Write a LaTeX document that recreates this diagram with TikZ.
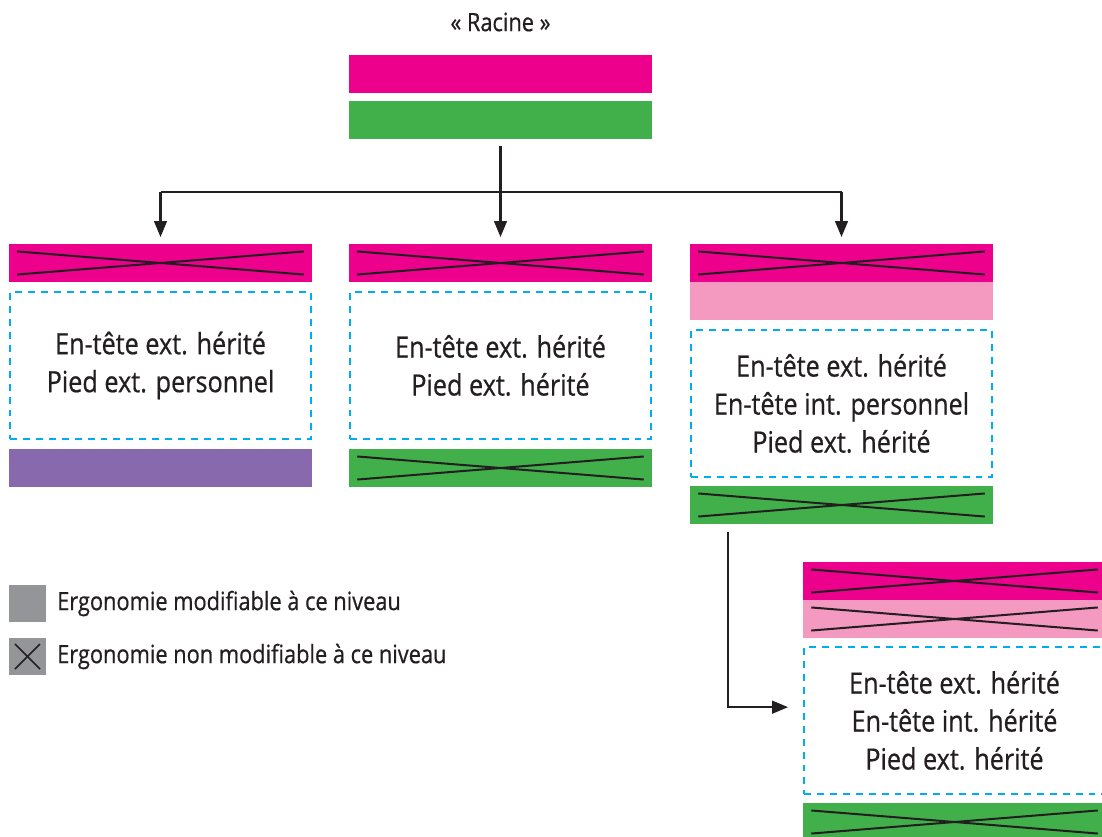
\documentclass[tikz,border=0pt]{standalone}
\usepackage{fontspec}
\setmainfont[FakeStretch=0.86, FakeBold=0.6]{Open Sans}
\usepackage{tikz}
\usetikzlibrary{arrows.meta,positioning,calc}

\definecolor{rosepink}{HTML}{EC008C}
\definecolor{palepink}{HTML}{F49AC1}
\definecolor{leafgreen}{HTML}{41AF4A}
\definecolor{mauve}{HTML}{8869AD}
\definecolor{zonecyan}{HTML}{00AEEF}
\definecolor{inkblack}{HTML}{231F20}
\definecolor{keygrey}{HTML}{939598}

\begin{document}
\begin{tikzpicture}[x=0.75pt, y=-0.75pt,
    bar/.style={rectangle, minimum width=227.25pt, minimum height=28.5pt, inner sep=0pt},
    crossed/.style={path picture={
        \draw[inkblack, line width=1.5pt] ([xshift=6.2pt,yshift=-5.6pt]path picture bounding box.north west) -- ([xshift=-6.2pt,yshift=5.6pt]path picture bounding box.south east);
        \draw[inkblack, line width=1.5pt] ([xshift=6.2pt,yshift=5.6pt]path picture bounding box.south west) -- ([xshift=-6.2pt,yshift=-5.6pt]path picture bounding box.north east);}},
    keycross/.style={path picture={
        \draw[inkblack, line width=1.1pt] ([shift={(4.5pt,-4.5pt)}]path picture bounding box.north west) -- ([shift={(-4.5pt,4.5pt)}]path picture bounding box.south east);
        \draw[inkblack, line width=1.1pt] ([shift={(4.5pt,4.5pt)}]path picture bounding box.south west) -- ([shift={(-4.5pt,-4.5pt)}]path picture bounding box.north east);}},
    zone/.style={rectangle, draw=zonecyan, line width=1.8pt, dash pattern=on 5.2pt off 4.5pt, minimum width=225.75pt, minimum height=110.25pt, align=center, text=inkblack, font=\fontsize{22}{28.5}\selectfont},
    link/.style={draw=inkblack, line width=1.7pt},
    arrow/.style={link, -{Triangle[length=12pt,width=9.5pt]}},
    key/.style={rectangle, fill=keygrey, minimum size=27.75pt, inner sep=0pt},
    legend/.style={inner sep=0pt, text=inkblack, font=\fontsize{19}{23}\selectfont}
]
\useasboundingbox (0,0) rectangle (1102,837);

% Racine
\node[text=inkblack, font=\fontsize{19}{22}\selectfont] (racine) at (500.5,22) {« Racine »};
\node[bar, fill=rosepink] (rootH) at (500.5,74) {};
\node[bar, fill=leafgreen] (rootF) at (500.5,120) {};

% Niveau 1
\node[bar, fill=rosepink, crossed] (head1) at (160.5,263) {};
\node[zone] (box1) at (160.5,365.5) {En-tête ext. hérité\\Pied ext. personnel};
\node[bar, fill=mauve] (foot1) at (160.5,468) {};

\node[bar, fill=rosepink, crossed] (head2) at (500.5,263) {};
\node[zone] (box2) at (500.5,365.5) {En-tête ext. hérité\\Pied ext. hérité};
\node[bar, fill=leafgreen, crossed] (foot2) at (500.5,468) {};

\node[bar, fill=rosepink, crossed] (head3) at (841.5,263) {};
\node[bar, fill=palepink] (inner3) at (841.5,301) {};
\node[zone] (box3) at (841.5,403.5) {En-tête ext. hérité\\En-tête int. personnel\\Pied ext. hérité};
\node[bar, fill=leafgreen, crossed] (foot3) at (841.5,505) {};

% Niveau 2
\node[bar, fill=rosepink, crossed] (head4) at (954.5,581) {};
\node[bar, fill=palepink, crossed] (inner4) at (954.5,619) {};
\node[zone] (box4) at (954.5,720.5) {En-tête ext. hérité\\En-tête int. hérité\\Pied ext. hérité};
\node[bar, fill=leafgreen, crossed] (foot4) at (954.5,822) {};

% Legende
\node[key] (keyfree) at (27.5,603.5) {};
\node[legend, right=8pt of keyfree] (txtfree) {Ergonomie modifiable à ce niveau};
\node[key, keycross] (keylock) at (27.5,656.5) {};
\node[legend, right=8pt of keylock] (txtlock) {Ergonomie non modifiable à ce niveau};

% Fleches
\coordinate (split) at (500.5,192);
\draw[link] ([yshift=-5pt]rootF.south) -- (split);
\draw[link] (split -| head1.north) -- (split -| head3.north);
\foreach \n in {1,2,3}
    \draw[arrow] (split -| head\n.north) -- ([yshift=5pt]head\n.north);
\draw[arrow] ([xshift=28.5pt,yshift=-6pt]foot3.south west) |- ([xshift=-11pt,yshift=10pt]box4.west);

\end{tikzpicture}
\end{document}
